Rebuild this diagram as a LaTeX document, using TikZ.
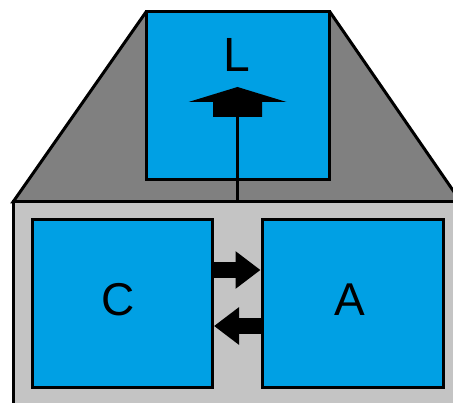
\documentclass[tikz,border=0pt]{standalone}
\usepackage{fontspec}
\setmainfont{Liberation Sans}
\usetikzlibrary{arrows.meta}
\definecolor{boxblue}{RGB}{0,160,228}
\definecolor{darkg}{RGB}{128,128,128}
\definecolor{lightg}{RGB}{196,196,196}
\begin{document}
\begin{tikzpicture}[x=1pt,y=-1pt,
  outl/.style={draw=black,line width=3pt,line join=miter},
  bluebox/.style={outl,fill=boxblue,inner sep=0pt},
  lbl/.style={font=\fontsize{46}{46}\selectfont,inner sep=0pt},
  blockarrow/.style={line width=16pt,-{Triangle[length=25pt,width=36pt]},shorten <=-1pt}]
\useasboundingbox (0,0) rectangle (453,403);
% trapezoid
\draw[outl,fill=darkg] (146,12) -- (330,12) -- (461,202) -- (13,202) -- cycle;
% light panel
\draw[outl,fill=lightg] (13,202) rectangle (470,420);
\coordinate (paneltop) at (237.5,202);
% boxes
\node[bluebox,minimum width=183pt,minimum height=168pt] (L) at (238,96) {};
\node[lbl,font=\fontsize{48}{48}\selectfont] (Ltext) at (237,55) {L};
\node[bluebox,minimum width=180pt,minimum height=168pt] (C) at (122.5,303.5) {};
\node[lbl] (Ctext) at (118,300) {C};
\node[bluebox,minimum width=181pt,minimum height=168pt] (A) at (352.5,303.5) {};
\node[lbl] (Atext) at (350,300) {A};
% up arrow
\coordinate (uptip) at (237.5,87);
\coordinate (upbase) at (237.5,117);
\draw[line width=3pt] (paneltop) -- (upbase);
\fill[black] (uptip) -- ++(-49,15) -- ++(24.5,0) -- ++(0,15) -- ++(49,0) -- ++(0,-15) -- ++(24.5,0) -- cycle;
% horizontal arrows
\draw[blockarrow] (C.east |- 0,270) -- (A.west |- 0,270);
\draw[blockarrow] (A.west |- 0,326) -- (C.east |- 0,326);
\end{tikzpicture}
\end{document}
